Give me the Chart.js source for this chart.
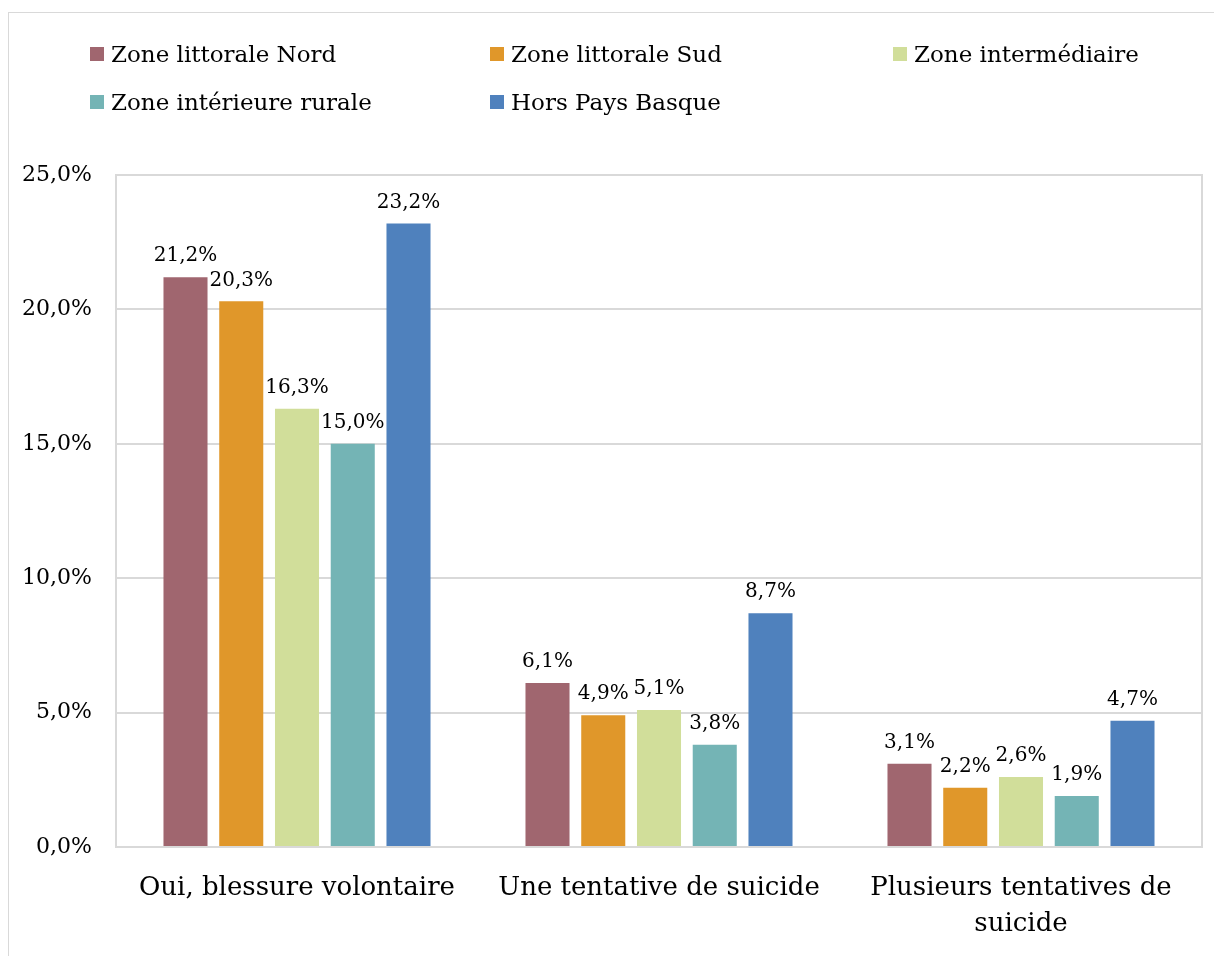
<!DOCTYPE html>
<html>
<head>
<meta charset="utf-8">
<script src="https://cdn.jsdelivr.net/npm/chart.js@4/dist/chart.umd.min.js"></script>
<style>
  body { margin: 0; background: #fff; }
  #wrap { position: relative; width: 1214px; height: 956px; overflow: hidden; }
  #frame { position: absolute; left: 8px; top: 12px; width: 1300px; height: 1100px; border: 1px solid #d9d9d9; }
  #legend { position: absolute; left: 0; top: 0; width: 1214px; font-family: "DejaVu Serif", serif; font-size: 23px; color: #000; }
  .item { position: absolute; display: flex; align-items: center; white-space: nowrap; }
  .box { width: 14px; height: 14px; margin-right: 7px; }
  canvas { position: absolute; left: 0; top: 0; }
</style>
</head>
<body>
<div id="wrap">
  <div id="frame"></div>
  <canvas id="chart" width="1214" height="956"></canvas>
  <div id="legend"></div>
</div>
<script>
const categories = ['Oui, blessure volontaire', 'Une tentative de suicide', ['Plusieurs tentatives de', 'suicide']];
const seriesNames = ['Zone littorale Nord', 'Zone littorale Sud', 'Zone intermédiaire', 'Zone intérieure rurale', 'Hors Pays Basque'];
const seriesColors = ['#a0666f', '#e0972a', '#d1de9a', '#74b4b5', '#4f81bd'];
const nordValues = [21.2, 6.1, 3.1];
const sudValues = [20.3, 4.9, 2.2];
const intermediaireValues = [16.3, 5.1, 2.6];
const interieureValues = [15.0, 3.8, 1.9];
const horsValues = [23.2, 8.7, 4.7];
const seriesValues = [nordValues, sudValues, intermediaireValues, interieureValues, horsValues];
const yTicks = [0, 5, 10, 15, 20, 25];

const fmt = v => v.toFixed(1).replace('.', ',') + '%';
const fontFamily = '"DejaVu Serif", serif';

// legend laid out in a grid like the original
const legendPos = [[90, 56], [490, 56], [893, 56], [90, 104], [490, 104]];
const legendEl = document.getElementById('legend');
seriesNames.forEach((name, i) => {
    const it = document.createElement('div');
    it.className = 'item';
    it.style.left = legendPos[i][0] + 'px';
    it.style.top = (legendPos[i][1] - 15) + 'px';
    it.innerHTML = '<span class="box" style="background:' + seriesColors[i] + '"></span>' + name;
    legendEl.appendChild(it);
});

const valueLabels = {
    id: 'valueLabels',
    afterDatasetsDraw(chart) {
        const ctx = chart.ctx;
        ctx.save();
        ctx.font = '20px ' + fontFamily;
        ctx.fillStyle = '#000';
        ctx.textAlign = 'center';
        ctx.textBaseline = 'bottom';
        chart.data.datasets.forEach((ds, i) => {
            chart.getDatasetMeta(i).data.forEach((bar, j) => {
                ctx.fillText(fmt(ds.data[j]), bar.x, bar.y - 11);
            });
        });
        ctx.restore();
    }
};

const plotBorder = {
    id: 'plotBorder',
    beforeDatasetsDraw(chart) {
        const a = chart.chartArea;
        const ctx = chart.ctx;
        ctx.save();
        ctx.strokeStyle = '#d9d9d9';
        ctx.lineWidth = 2;
        ctx.strokeRect(a.left, a.top, a.right - a.left, a.bottom - a.top);
        ctx.restore();
    }
};

new Chart(document.getElementById('chart'), {
    type: 'bar',
    data: {
        labels: categories,
        datasets: seriesNames.map((name, i) => ({
            label: name,
            data: seriesValues[i],
            backgroundColor: seriesColors[i],
            categoryPercentage: 0.77,
            barPercentage: 0.79
        }))
    },
    options: {
        responsive: false,
        animation: false,
        layout: { padding: { top: 175, right: 12, left: 0, bottom: 0 } },
        plugins: {
            legend: { display: false },
            tooltip: { enabled: false }
        },
        scales: {
            x: {
                grid: { display: false },
                border: { display: false },
                ticks: { color: '#000', font: { family: fontFamily, size: 26, lineHeight: 1.38 }, padding: 15, maxRotation: 0 },
                afterFit: s => { s.height = 109; }
            },
            y: {
                min: 0,
                max: 25,
                afterBuildTicks: s => { s.ticks = yTicks.map(v => ({ value: v })); },
                grid: { color: '#d9d9d9', lineWidth: 2, drawTicks: false },
                border: { display: false },
                ticks: { color: '#000', font: { family: fontFamily, size: 22 }, padding: 24, callback: v => fmt(v) },
                afterFit: s => { s.width = 116; }
            }
        }
    },
    plugins: [plotBorder, valueLabels]
});
</script>
</body>
</html>
